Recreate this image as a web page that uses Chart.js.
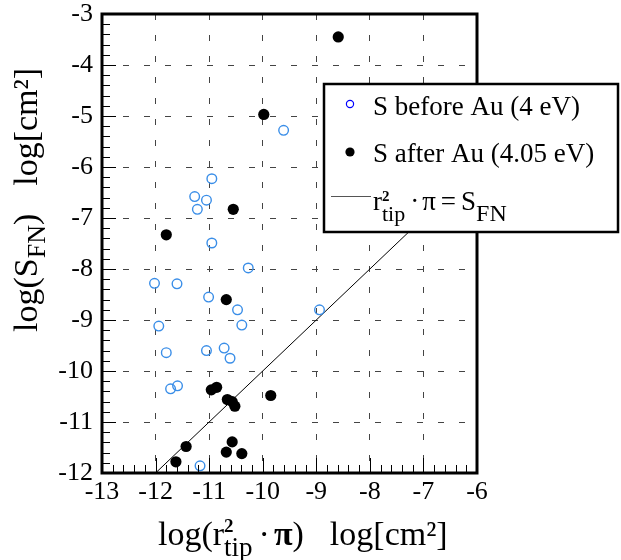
<!DOCTYPE html>
<html>
<head>
<meta charset="utf-8">
<script src="https://cdn.jsdelivr.net/npm/chart.js@4.4.1/dist/chart.umd.min.js"></script>
<style>
  html, body { margin: 0; padding: 0; background: #fff; }
  #wrap { width: 621px; height: 560px; }
</style>
</head>
<body>
<div id="wrap"><canvas id="chart" width="621" height="560"></canvas></div>
<script>
// axis ranges / tick labels
const xTicks = [-13, -12, -11, -10, -9, -8, -7, -6];
const yTicks = [-12, -11, -10, -9, -8, -7, -6, -5, -4, -3];

// S before Au (open blue circles)
const beforeX = [-9.61, -10.95, -11.27, -11.05, -11.22, -10.95, -10.27, -12.02, -11.6, -11.01, -10.47,
  -11.94, -10.39, -8.94, -11.8, -11.05, -10.72, -10.61, -11.72, -11.59, -11.17];
const beforeY = [-5.28, -6.23, -6.58, -6.65, -6.83, -7.49, -7.98, -8.28, -8.29, -8.55, -8.8,
  -9.12, -9.1, -8.8, -9.64, -9.6, -9.55, -9.75, -10.35, -10.29, -11.86];

// S after Au (filled black dots)
const afterX = [-8.59, -9.98, -10.55, -11.8, -10.68, -10.96, -10.86, -10.66, -10.57, -10.52, -9.85,
  -11.43, -10.57, -10.68, -10.39, -11.62];
const afterY = [-3.45, -4.97, -6.83, -7.33, -8.6, -10.37, -10.32, -10.56, -10.6, -10.69, -10.48,
  -11.48, -11.39, -11.59, -11.62, -11.78];

// r_tip^2 * pi = S_FN
const fitX = [-12, -6];
const fitY = [-12, -6];

const legendLabels = ["S before Au (4 eV)", "S after Au (4.05 eV)"];

const SERIF = '"Liberation Serif", "Times New Roman", serif';
const toPoints = (xs, ys) => xs.map((x, i) => ({ x, y: ys[i] }));

// draws a run of text pieces (for sub/superscripts)
const drawParts = (ctx, x, y, parts) => {
  parts.forEach(p => {
    if (p.gap) { x += p.gap; return; }
    ctx.font = `${p.bold ? "bold " : ""}${p.size}px ${SERIF}`;
    ctx.fillText(p.text, x, y + (p.dy || 0));
    if (!p.stack) x += ctx.measureText(p.text).width;
  });
};

const decor = {
  id: "decor",
  afterDraw(chart) {
    const { ctx, chartArea: a, scales } = chart;
    const sx = scales.x, sy = scales.y;
    ctx.save();

    // inner ticks every 0.2 on left and bottom
    ctx.strokeStyle = "#000";
    ctx.lineWidth = 1;
    ctx.beginPath();
    for (let i = 0; i <= 35; i++) {
      const px = Math.round(sx.getPixelForValue(xTicks[0] + i * 0.2)) + 0.5;
      const len = i % 5 === 0 ? 15 : 8;
      ctx.moveTo(px, a.bottom);
      ctx.lineTo(px, a.bottom - len);
    }
    for (let i = 0; i <= 45; i++) {
      const py = Math.round(sy.getPixelForValue(yTicks[0] + i * 0.2)) + 0.5;
      const len = i % 5 === 0 ? 14 : 8;
      ctx.moveTo(a.left, py);
      ctx.lineTo(a.left + len, py);
    }
    ctx.stroke();

    // frame
    ctx.lineWidth = 3;
    ctx.strokeRect(a.left, a.top, a.right - a.left, a.bottom - a.top);

    // legend box
    const lx = 324, ly = 84, lw = 294, lh = 148;
    ctx.fillStyle = "#fff";
    ctx.fillRect(lx, ly, lw, lh);
    ctx.lineWidth = 2.5;
    ctx.strokeRect(lx, ly, lw, lh);

    ctx.lineWidth = 1.2;
    ctx.strokeStyle = "#0000ff";
    ctx.beginPath();
    ctx.arc(350, 104, 3.6, 0, Math.PI * 2);
    ctx.stroke();
    ctx.fillStyle = "#000";
    ctx.beginPath();
    ctx.arc(350, 152, 4.6, 0, Math.PI * 2);
    ctx.fill();
    ctx.strokeStyle = "#555";
    ctx.lineWidth = 1;
    ctx.beginPath();
    ctx.moveTo(331, 196.5);
    ctx.lineTo(371, 196.5);
    ctx.stroke();

    ctx.fillStyle = "#000";
    ctx.textBaseline = "alphabetic";
    ctx.textAlign = "left";
    ctx.font = `27px ${SERIF}`;
    ctx.fillText(legendLabels[0], 373, 115);
    ctx.fillText(legendLabels[1], 373, 162);
    drawParts(ctx, 373, 210, [
      { text: "r", size: 27 },
      { text: "2", size: 15, bold: true, dy: -9, stack: true },
      { text: "tip", size: 22, dy: 11 },
      { gap: 5 },
      { text: "·", size: 27 },
      { gap: 3 },
      { text: "π", size: 27 },
      { gap: 5 },
      { text: "=", size: 27 },
      { gap: 5 },
      { text: "S", size: 27 },
      { text: "FN", size: 24, dy: 11 }
    ]);

    // x axis title
    drawParts(ctx, 158, 545, [
      { text: "log(r", size: 34 },
      { text: "2", size: 19, bold: true, dy: -13, stack: true },
      { text: "tip", size: 27, dy: 11 },
      { gap: 6 },
      { text: "·", size: 34 },
      { gap: 4 },
      { text: "π", size: 34, bold: true },
      { text: ")", size: 34 },
      { gap: 26 },
      { text: "log[cm²]", size: 34 }
    ]);

    // y axis title (rotated)
    ctx.translate(37, 332);
    ctx.rotate(-Math.PI / 2);
    drawParts(ctx, 0, 0, [
      { text: "log(S", size: 34 },
      { text: "FN", size: 26, dy: 8 },
      { text: ")", size: 34 },
      { gap: 28 },
      { text: "log[cm²]", size: 34 }
    ]);
    ctx.restore();
  }
};

const axisCommon = {
  type: "linear",
  grid: { color: "#444", lineWidth: 1, drawTicks: false },
  border: { display: false, dash: [6, 15] },
  ticks: {
    stepSize: 1,
    autoSkip: false,
    maxRotation: 0,
    color: "#000",
    font: { family: SERIF, size: 26 }
  }
};

const makeChart = () => {
  const ctx = document.getElementById("chart");
  return new Chart(ctx, {
    type: "scatter",
    data: {
      datasets: [
        {
          label: "r_tip^2 * pi = S_FN",
          data: toPoints(fitX, fitY),
          showLine: true,
          borderColor: "#000",
          borderWidth: 1,
          pointRadius: 0,
          order: 3
        },
        {
          label: legendLabels[0],
          data: toPoints(beforeX, beforeY),
          pointRadius: 4.8,
          pointBorderWidth: 1.4,
          borderColor: "#3a8ee8",
          backgroundColor: "rgba(255,255,255,0)",
          order: 2
        },
        {
          label: legendLabels[1],
          data: toPoints(afterX, afterY),
          pointRadius: 5.6,
          pointBorderWidth: 0,
          borderColor: "#000",
          backgroundColor: "#000",
          order: 1
        }
      ]
    },
    options: {
      responsive: false,
      animation: false,
      devicePixelRatio: 1,
      layout: { padding: { top: 14, right: 144, left: 0, bottom: 0 } },
      plugins: { legend: { display: false }, tooltip: { enabled: false } },
      scales: {
        x: {
          ...axisCommon,
          min: xTicks[0],
          max: xTicks[xTicks.length - 1],
          ticks: { ...axisCommon.ticks, padding: 4 },
          afterFit: s => { s.height = 87; s.paddingLeft = 0; s.paddingRight = 0; }
        },
        y: {
          ...axisCommon,
          min: yTicks[0],
          max: yTicks[yTicks.length - 1],
          ticks: { ...axisCommon.ticks, padding: 9 },
          afterFit: s => { s.width = 102; s.paddingTop = 0; s.paddingBottom = 0; }
        }
      }
    },
    plugins: [decor]
  });
};

document.fonts.load(`26px ${SERIF}`).then(makeChart, makeChart);
</script>
</body>
</html>
